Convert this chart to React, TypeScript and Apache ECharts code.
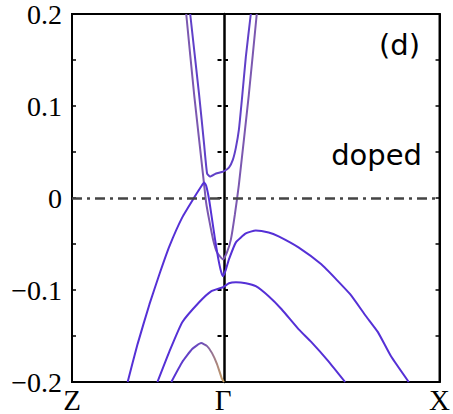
import React, { useEffect, useRef } from "react";
import * as echarts from "echarts";

// k-path positions (fraction of path length)
const K_Z = 0;
const K_GAMMA = 0.411;
const K_X = 1;
const kLabels = ["Z", "Γ", "X"];

const yTicks = [-0.2, -0.1, 0, 0.1, 0.2];

// Bands: [k, E (eV)]
const bandV1: number[][] = [
  [0.3108, 0.2], [0.3324, 0.1122], [0.3595, 0.0146], [0.3649, -0.0049], [0.373, -0.0233],
  [0.3838, -0.045], [0.3946, -0.0591], [0.411, -0.0667], [0.4216, -0.0591], [0.4324, -0.045],
  [0.4432, -0.0179], [0.4541, 0.0146], [0.4811, 0.1122], [0.5027, 0.2],
];
const bandKink: number[][] = [
  [0.3216, 0.2], [0.3459, 0.1122], [0.3595, 0.058], [0.3676, 0.0266], [0.3757, 0.0233],
  [0.3919, 0.0266], [0.411, 0.0287], [0.427, 0.0331], [0.4378, 0.0417], [0.4459, 0.0547],
  [0.4541, 0.0743], [0.4622, 0.1068], [0.473, 0.1534], [0.4865, 0.2],
];
const bandTop: number[][] = [
  [0.1514, -0.2], [0.1784, -0.1588], [0.2108, -0.1154], [0.2378, -0.0829], [0.2649, -0.0526],
  [0.3, -0.0211], [0.3324, 0.0005], [0.3514, 0.0125], [0.3595, 0.0168], [0.3649, 0.0136],
  [0.373, -0.0016], [0.3811, -0.0233], [0.3892, -0.045], [0.3973, -0.0645], [0.4054, -0.0797],
  [0.411, -0.0851], [0.4189, -0.0775], [0.427, -0.0667], [0.4459, -0.0482], [0.473, -0.0385],
  [0.5, -0.0352], [0.5351, -0.0374], [0.5622, -0.0417], [0.6162, -0.0537], [0.6784, -0.0721],
  [0.7189, -0.0884], [0.7568, -0.1046], [0.8, -0.1285], [0.8324, -0.1458], [0.8676, -0.1718],
  [0.9162, -0.2],
];
const bandSecond: number[][] = [
  [0.2324, -0.2], [0.2649, -0.1669], [0.3, -0.135], [0.3459, -0.1133], [0.3784, -0.1014],
  [0.411, -0.097], [0.427, -0.0927], [0.4459, -0.0916], [0.473, -0.0927], [0.5, -0.0959],
  [0.5351, -0.1068], [0.5703, -0.1209], [0.6162, -0.1425], [0.6514, -0.1566], [0.6973, -0.1772],
  [0.7432, -0.2],
];
const bandThird: number[][] = [
  [0.2703, -0.2], [0.3, -0.1783], [0.327, -0.1642], [0.3514, -0.1577], [0.3676, -0.161],
  [0.3811, -0.1686], [0.3946, -0.1805], [0.4081, -0.1967], [0.4135, -0.2],
];

const BLUE = "#5530d6";
const PURPLE = "#7b58b0";
const KINK = "#6040c8";

export default function App() {
  const ref = useRef<HTMLDivElement>(null);
  useEffect(() => {
    if (!ref.current) return;
    const chart = echarts.init(ref.current, null, { renderer: "svg" });
    const serif = "'Liberation Serif', 'DejaVu Serif', serif";
    const sans = "'DejaVu Sans', sans-serif";
    const fmtY = (v: number) => {
      if (Math.abs(v) < 1e-9) return "0";
      return (v < 0 ? "−" : "") + Math.abs(v).toFixed(1);
    };
    const line = (data: number[][], color: any, width = 2) => ({
      type: "line",
      data,
      showSymbol: false,
      smooth: 0.15,
      lineStyle: { color, width },
      z: 3,
      clip: true,
    });
    chart.setOption({
      animation: false,
      backgroundColor: "#fff",
      grid: {
        left: 72, right: 11, top: 14, bottom: 31,
        show: true, borderColor: "#000", borderWidth: 2,
      },
      xAxis: {
        type: "value", min: K_Z, max: K_X,
        axisLine: { show: false },
        splitLine: { show: false },
        axisTick: { show: false },
        axisLabel: {
          customValues: [K_Z, K_GAMMA, K_X],
          formatter: (v: number) => {
            if (Math.abs(v - K_Z) < 1e-6) return kLabels[0];
            if (Math.abs(v - K_GAMMA) < 1e-6) return kLabels[1];
            return kLabels[2];
          },
          fontFamily: serif, fontSize: 29, color: "#000", margin: 3,
        },
      },
      yAxis: [
        {
          type: "value", min: -0.2, max: 0.2, interval: 0.1,
          axisLine: { show: true, lineStyle: { color: "#000", width: 2 } },
          axisTick: { show: true, inside: true, length: 4, lineStyle: { color: "#000", width: 1.5 } },
          minorTick: { show: true, splitNumber: 2, length: 4, lineStyle: { color: "#000", width: 1.5 } },
          splitLine: { show: false },
          axisLabel: {
            customValues: yTicks,
            formatter: fmtY, fontFamily: serif, fontSize: 28, color: "#000", margin: 10,
          },
        },
        {
          type: "value", min: -0.2, max: 0.2, interval: 0.05, position: "right",
          axisLine: { show: true, lineStyle: { color: "#000", width: 2 } },
          axisTick: { show: true, inside: true, length: 4, lineStyle: { color: "#000", width: 1.5 } },
          splitLine: { show: false },
          axisLabel: { show: false },
        },
        {
          type: "value", min: -0.2, max: 0.2, interval: 0.05, position: "left", offset: -152,
          axisLine: { show: true, lineStyle: { color: "#000", width: 2.5 } },
          axisTick: { show: true, inside: true, length: 4, lineStyle: { color: "#000", width: 2 } },
          splitLine: { show: false },
          axisLabel: { show: false },
        },
        {
          type: "value", min: -0.2, max: 0.2, interval: 0.05, position: "right", offset: -218,
          axisLine: { show: false },
          axisTick: { show: true, inside: true, length: 4, lineStyle: { color: "#000", width: 2 } },
          splitLine: { show: false },
          axisLabel: { show: false },
        },
      ],
      series: [
        {
          ...line(bandV1, PURPLE),
          markLine: {
            silent: true, symbol: "none", label: { show: false },
            lineStyle: { color: "#444", width: 2.5, type: [10, 5, 3, 5] },
            data: [{ yAxis: 0 }],
          },
        },
        line(bandKink, KINK),
        line(bandTop, BLUE),
        line(bandSecond, BLUE),
        line(bandThird, {
          type: "linear", x: 0, y: 0, x2: 1, y2: 0,
          colorStops: [
            { offset: 0, color: BLUE },
            { offset: 0.6, color: "#7050b8" },
            { offset: 1, color: "#c8a060" },
          ],
        }),
      ],
      graphic: [
        {
          type: "text", right: 33, top: 30,
          style: { text: "(d)", font: `29px ${sans}`, fill: "#000" },
        },
        {
          type: "text", right: 31, top: 140,
          style: { text: "doped", font: `29px ${sans}`, fill: "#000" },
        },
      ],
    });
    return () => chart.dispose();
  }, []);
  return (
    <div
      ref={ref}
      style={{ position: "fixed", left: 0, top: 0, width: 453, height: 414, background: "#fff" }}
    />
  );
}
